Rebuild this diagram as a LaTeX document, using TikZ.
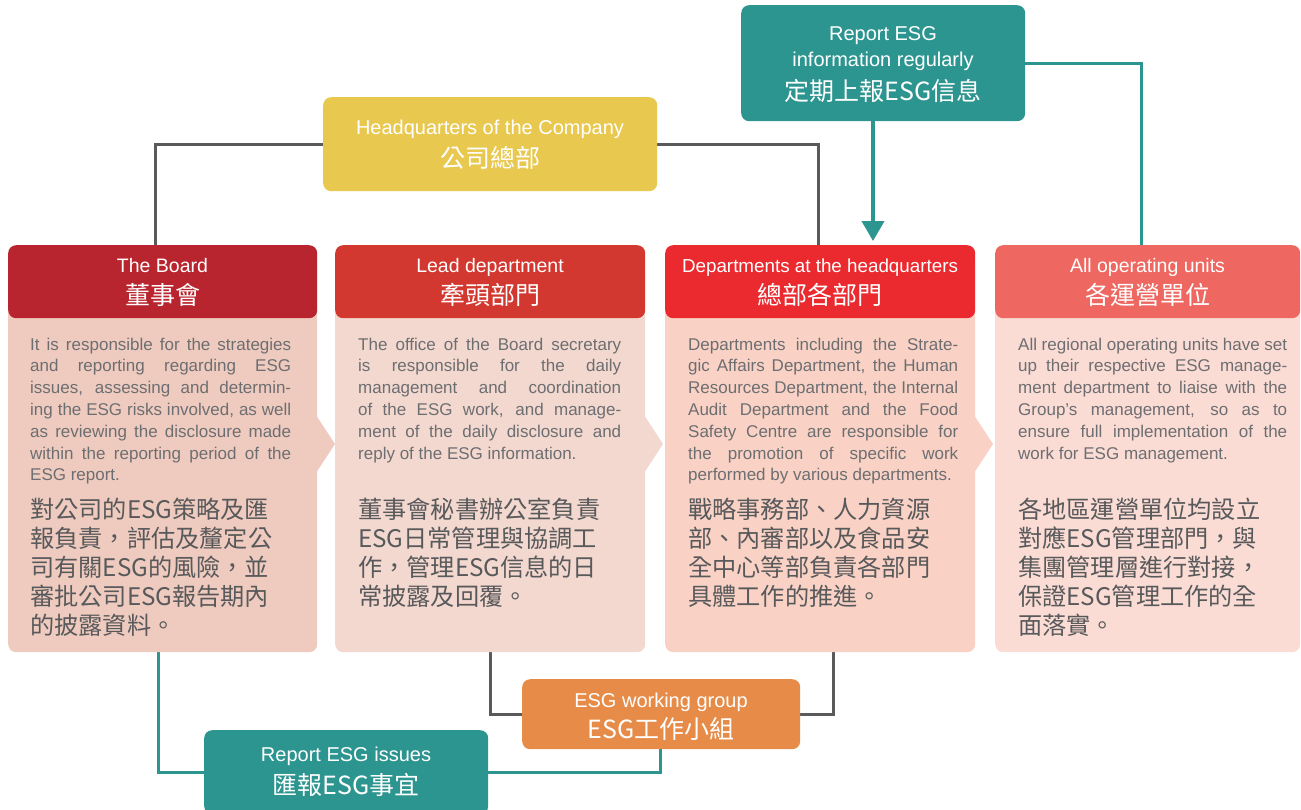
\documentclass[tikz,border=0pt]{standalone}
\usepackage{fontspec}
\setmainfont{Liberation Sans}
\newfontfamily\cjk{Noto Sans CJK TC}
\usetikzlibrary{arrows.meta}
\pgfdeclarelayer{connectors}
\pgfsetlayers{connectors,main}
\definecolor{hdrA}{HTML}{B9252E}
\definecolor{bodyA}{HTML}{EFCBBF}
\definecolor{hdrB}{HTML}{D2382F}
\definecolor{bodyB}{HTML}{F3D8CF}
\definecolor{hdrC}{HTML}{EA2A2F}
\definecolor{bodyC}{HTML}{F9D2C5}
\definecolor{hdrD}{HTML}{EE6861}
\definecolor{bodyD}{HTML}{FBDCD5}
\definecolor{yel}{HTML}{E8C84E}
\definecolor{teal}{HTML}{2D958F}
\definecolor{orng}{HTML}{E78C48}
\definecolor{lgray}{HTML}{5A5A5C}
\definecolor{entext}{HTML}{6D6E71}
\definecolor{zhtext}{HTML}{58595B}
\tolerance=10000
\hyphenpenalty=10000
\hbadness=10000
\begin{document}
\begin{tikzpicture}[x=1pt,y=-1pt,
  boxnode/.style={rectangle, rounded corners=8pt, inner sep=0pt, anchor=north west},
  hen/.style={font=\fontsize{19.5}{22}\selectfont, text=white, anchor=base, inner sep=0pt},
  hzh/.style={font=\cjk\fontsize{25}{28}\selectfont, text=white, anchor=base, inner sep=0pt},
  ben/.style={font=\fontsize{20}{24}\selectfont, text=white, anchor=base, inner sep=0pt},
  entxt/.style={font=\fontsize{17}{21.8}\selectfont, text=entext, align=justify, inner sep=0pt, anchor=north west},
  zhtxt/.style={font=\cjk\fontsize{24.2}{29}\selectfont, text=zhtext, align=left, inner sep=0pt, anchor=north west},
  gline/.style={draw=lgray, line width=3pt},
  tline/.style={draw=teal, line width=3pt}
]
\useasboundingbox (0,0) rectangle (1301,809);

% ---- connector anchor coordinates
\coordinate (g1) at (155,246);
\coordinate (g2) at (818,246);
\coordinate (t1) at (1141,246);
\coordinate (a2) at (873,241);
\coordinate (g3) at (490,650);
\coordinate (g4) at (833,650);
\coordinate (t3) at (158,650);
\coordinate (t4) at (660,748);

% ---- top boxes
\node[boxnode, fill=yel, minimum width=334pt, minimum height=94pt] (hq) at (323,97) {};
\node[boxnode, fill=teal, minimum width=284pt, minimum height=116pt] (report) at (741,5) {};

% ---- bottom boxes
\node[boxnode, fill=orng, minimum width=278pt, minimum height=70pt] (wg) at (522,679) {};
\node[boxnode, fill=teal, minimum width=284pt, minimum height=84pt] (issues) at (204,730) {};

% ---- connectors (behind the boxes)
\begin{pgfonlayer}{connectors}
\draw[gline] (g1) |- (hq.west);
\draw[gline] (hq.east) -| (g2);
\draw[tline] (report.east) -| (t1);
\draw[teal, line width=4pt, -{Triangle[width=22pt,length=20pt]}] (report.south -| a2) -- (a2);
\draw[gline] (g3) |- (wg.west);
\draw[gline] (wg.east) -| (g4);
\draw[tline] (t3) |- (issues.west);
\draw[tline] (issues.east) -| (t4);
\end{pgfonlayer}

% ---- top/bottom box texts
\node[ben] (hqEn) at (490,134) {Headquarters of the Company};
\node[hzh] (hqZh) at (490,167) {公司總部};
\node[ben] (repEn1) at (883,40) {Report ESG};
\node[ben] (repEn2) at (883,66) {information regularly};
\node[hzh] (repZh) at (883,100) {定期上報ESG信息};
\node[ben] (wgEn) at (661,707) {ESG working group};
\node[hzh] (wgZh) at (661,738) {ESG工作小組};
\node[ben] (isEn) at (346,761) {Report ESG issues};
\node[hzh] (isZh) at (346,794) {匯報ESG事宜};

% ---- columns: bodies
\node[boxnode, fill=bodyA, minimum width=309pt, minimum height=390pt] (boardbody) at (8,262) {};
\fill[bodyA] (316,415) -- (335,444) -- (316,473) -- cycle;
\node[boxnode, fill=bodyB, minimum width=310pt, minimum height=390pt] (leadbody) at (335,262) {};
\fill[bodyB] (644,415) -- (663,444) -- (644,473) -- cycle;
\node[boxnode, fill=bodyC, minimum width=310pt, minimum height=390pt] (deptbody) at (665,262) {};
\fill[bodyC] (974,415) -- (993,444) -- (974,473) -- cycle;
\node[boxnode, fill=bodyD, minimum width=305pt, minimum height=390pt] (unitbody) at (995,262) {};

% ---- columns: headers
\node[boxnode, fill=hdrA, minimum width=309pt, minimum height=73pt] (board) at (8,245) {};
\node[boxnode, fill=hdrB, minimum width=310pt, minimum height=73pt] (lead) at (335,245) {};
\node[boxnode, fill=hdrC, minimum width=310pt, minimum height=73pt] (dept) at (665,245) {};
\node[boxnode, fill=hdrD, minimum width=305pt, minimum height=73pt] (unit) at (995,245) {};

\node[hen] (boardEn) at (162.5,272) {The Board};
\node[hzh] (boardZh) at (162.5,304) {董事會};
\node[hen] (leadEn) at (490,272) {Lead department};
\node[hzh] (leadZh) at (490,304) {牽頭部門};
\node[hen, font=\fontsize{18.8}{22}\selectfont] (deptEn) at (820,272) {Departments at the headquarters};
\node[hzh] (deptZh) at (820,304) {總部各部門};
\node[hen] (unitEn) at (1147.5,272) {All operating units};
\node[hzh] (unitZh) at (1147.5,304) {各運營單位};

% ---- English descriptions
\node[entxt, text width=261pt] (boardDescEn) at (30,337.5) {It is responsible for the strategies\linebreak
and reporting regarding ESG\linebreak
issues, assessing and determin-\linebreak
ing the ESG risks involved, as well\linebreak
as reviewing the disclosure made\linebreak
within the reporting period of the\linebreak
ESG report.};
\node[entxt, text width=263pt] (leadDescEn) at (358,337.5) {The office of the Board secretary\linebreak
is responsible for the daily\linebreak
management and coordination\linebreak
of the ESG work, and manage-\linebreak
ment of the daily disclosure and\linebreak
reply of the ESG information.};
\node[entxt, text width=270pt] (deptDescEn) at (688,337.5) {Departments including the Strate-\linebreak
gic Affairs Department, the Human\linebreak
Resources Department, the Internal\linebreak
Audit Department and the Food\linebreak
Safety Centre are responsible for\linebreak
the promotion of specific work\linebreak
performed by various departments.};
\node[entxt, text width=269pt] (unitDescEn) at (1018,337.5) {All regional operating units have set\linebreak
up their respective ESG manage-\linebreak
ment department to liaise with the\linebreak
Group’s management, so as to\linebreak
ensure full implementation of the\linebreak
work for ESG management.};

% ---- Chinese descriptions
\node[zhtxt] (boardDescZh) at (30,498) {對公司的ESG策略及匯\\報負責，評估及釐定公\\司有關ESG的風險，並\\審批公司ESG報告期內\\的披露資料。};
\node[zhtxt] (leadDescZh) at (358,498) {董事會秘書辦公室負責\\ESG日常管理與協調工\\作，管理ESG信息的日\\常披露及回覆。};
\node[zhtxt] (deptDescZh) at (688,498) {戰略事務部、人力資源\\部、內審部以及食品安\\全中心等部負責各部門\\具體工作的推進。};
\node[zhtxt] (unitDescZh) at (1018,498) {各地區運營單位均設立\\對應ESG管理部門，與\\集團管理層進行對接，\\保證ESG管理工作的全\\面落實。};
\end{tikzpicture}
\end{document}
